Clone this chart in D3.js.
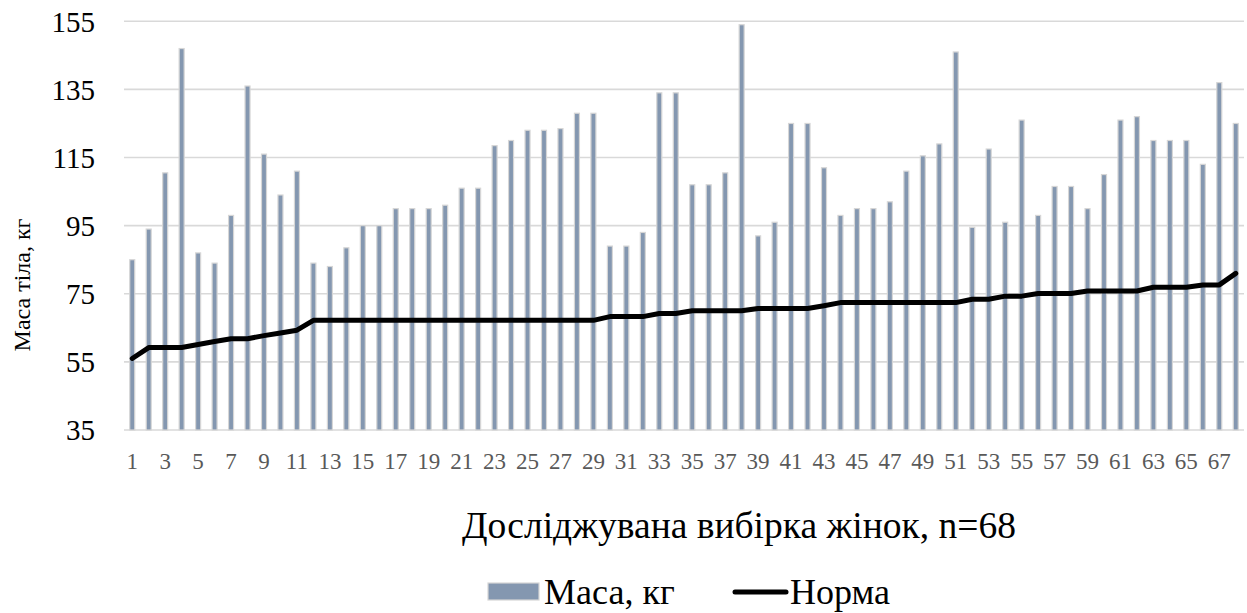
<!DOCTYPE html>
<html>
<head>
<meta charset="utf-8">
<script src="https://cdn.jsdelivr.net/npm/d3@7/dist/d3.min.js"></script>
<style>
  html, body { margin: 0; padding: 0; background: #ffffff; }
  svg { display: block; }
  svg text { font-family: "Liberation Serif", "Tinos", "Times New Roman", Times, "DejaVu Serif", serif !important; }
</style>
</head>
<body>
<svg id="chart" width="1247" height="613"></svg>
<script>
// Sample index 1..68
const participants = d3.range(1, 69);

// Body mass of each woman, kg
const massKg = [
  85, 94, 110.5, 147, 87, 84, 98, 136, 116, 104,
  111, 84, 83, 88.5, 95, 95, 100, 100, 100, 101,
  106, 106, 118.5, 120, 123, 123, 123.5, 128, 128, 89,
  89, 93, 134, 134, 107, 107, 110.5, 154, 92, 96,
  125, 125, 112, 98, 100, 100, 102, 111, 115.5, 119,
  146, 94.5, 117.5, 96, 126, 98, 106.5, 106.5, 100, 110,
  126, 127, 120, 120, 120, 113, 137, 125
];

// Normal body mass for each woman, kg
const normKg = [
  56, 59.2, 59.2, 59.2, 60.1, 61, 61.8, 61.8, 62.7, 63.5,
  64.3, 67.2, 67.2, 67.2, 67.2, 67.2, 67.2, 67.2, 67.2, 67.2,
  67.2, 67.2, 67.2, 67.2, 67.2, 67.2, 67.2, 67.2, 67.2, 68.3,
  68.3, 68.3, 69.2, 69.2, 70, 70, 70, 70, 70.7, 70.7,
  70.7, 70.7, 71.5, 72.4, 72.4, 72.4, 72.4, 72.4, 72.4, 72.4,
  72.4, 73.4, 73.4, 74.3, 74.3, 75.1, 75.1, 75.1, 75.8, 75.8,
  75.8, 75.8, 76.9, 76.9, 76.9, 77.6, 77.6, 81
];

const yTicks = [35, 55, 75, 95, 115, 135, 155];
const xTickLabels = participants.filter(d => d % 2 === 1);

const seriesNames = ["Маса, кг", "Норма"];
const yTitle = "Маса тіла, кг";
const xTitle = "Досліджувана вибірка жінок, n=68";

const svg = d3.select("#chart");
const plot = { left: 124, right: 1244, top: 21.3, bottom: 430 };

const x = d3.scaleBand()
  .domain(participants)
  .range([plot.left, plot.right])
  .paddingInner(0)
  .paddingOuter(0);

const y = d3.scaleLinear()
  .domain([35, 155])
  .range([plot.bottom, plot.top]);

// Horizontal gridlines
svg.append("g")
  .selectAll("line")
  .data(yTicks)
  .join("line")
  .attr("x1", plot.left)
  .attr("x2", plot.right)
  .attr("y1", d => y(d))
  .attr("y2", d => y(d))
  .attr("stroke", "#d9d9d9")
  .attr("stroke-width", 1.6);

// Y axis labels
const yAxis = svg.append("g")
  .attr("transform", `translate(${plot.left - 29},0)`)
  .call(d3.axisLeft(y).tickValues(yTicks).tickSize(0).tickPadding(0));
yAxis.select(".domain").remove();
yAxis.selectAll("text")
  .attr("font-size", 29)
  .attr("fill", "#000000")
  .attr("dy", "0.34em");

// X axis labels (every other participant)
const xAxis = svg.append("g")
  .attr("transform", `translate(0,${plot.bottom})`)
  .call(d3.axisBottom(x).tickValues(xTickLabels).tickSize(0).tickPadding(0));
xAxis.select(".domain").remove();
xAxis.selectAll("text")
  .attr("font-size", 23)
  .attr("fill", "#595959")
  .attr("y", 39)
  .attr("dy", 0);

// Bars
const barW = 5;
svg.append("g")
  .selectAll("rect")
  .data(participants)
  .join("rect")
  .attr("x", d => x(d) + x.bandwidth() / 2 - barW / 2)
  .attr("width", barW)
  .attr("y", (d, i) => y(massKg[i]))
  .attr("height", (d, i) => y(35) - y(massKg[i]))
  .attr("fill", "#8497b0")
  .attr("stroke", "#d6d6d6")
  .attr("stroke-width", 1.2);

// Norm line
const line = d3.line()
  .x((d, i) => x(participants[i]) + x.bandwidth() / 2)
  .y(d => y(d));

svg.append("path")
  .datum(normKg)
  .attr("d", line)
  .attr("fill", "none")
  .attr("stroke", "#000000")
  .attr("stroke-width", 5)
  .attr("stroke-linejoin", "round")
  .attr("stroke-linecap", "round");

// Axis titles
svg.append("text")
  .attr("transform", "translate(30,285) rotate(-90)")
  .attr("text-anchor", "middle")
  .attr("font-size", 24)
  .attr("fill", "#000000")
  .text(yTitle);

svg.append("text")
  .attr("x", 739)
  .attr("y", 538)
  .attr("text-anchor", "middle")
  .attr("font-size", 37.5)
  .attr("fill", "#000000")
  .text(xTitle);

// Legend
const legend = svg.append("g");
legend.append("rect")
  .attr("x", 488)
  .attr("y", 583)
  .attr("width", 51)
  .attr("height", 17)
  .attr("fill", "#8497b0")
  .attr("stroke", "#d6d6d6")
  .attr("stroke-width", 1.2);
legend.append("text")
  .attr("x", 544)
  .attr("y", 604)
  .attr("font-size", 36)
  .attr("fill", "#000000")
  .text(seriesNames[0]);
legend.append("line")
  .attr("x1", 735)
  .attr("x2", 786)
  .attr("y1", 592)
  .attr("y2", 592)
  .attr("stroke", "#000000")
  .attr("stroke-width", 5)
  .attr("stroke-linecap", "round");
legend.append("text")
  .attr("x", 790)
  .attr("y", 604)
  .attr("font-size", 36)
  .attr("fill", "#000000")
  .text(seriesNames[1]);
</script>
</body>
</html>
